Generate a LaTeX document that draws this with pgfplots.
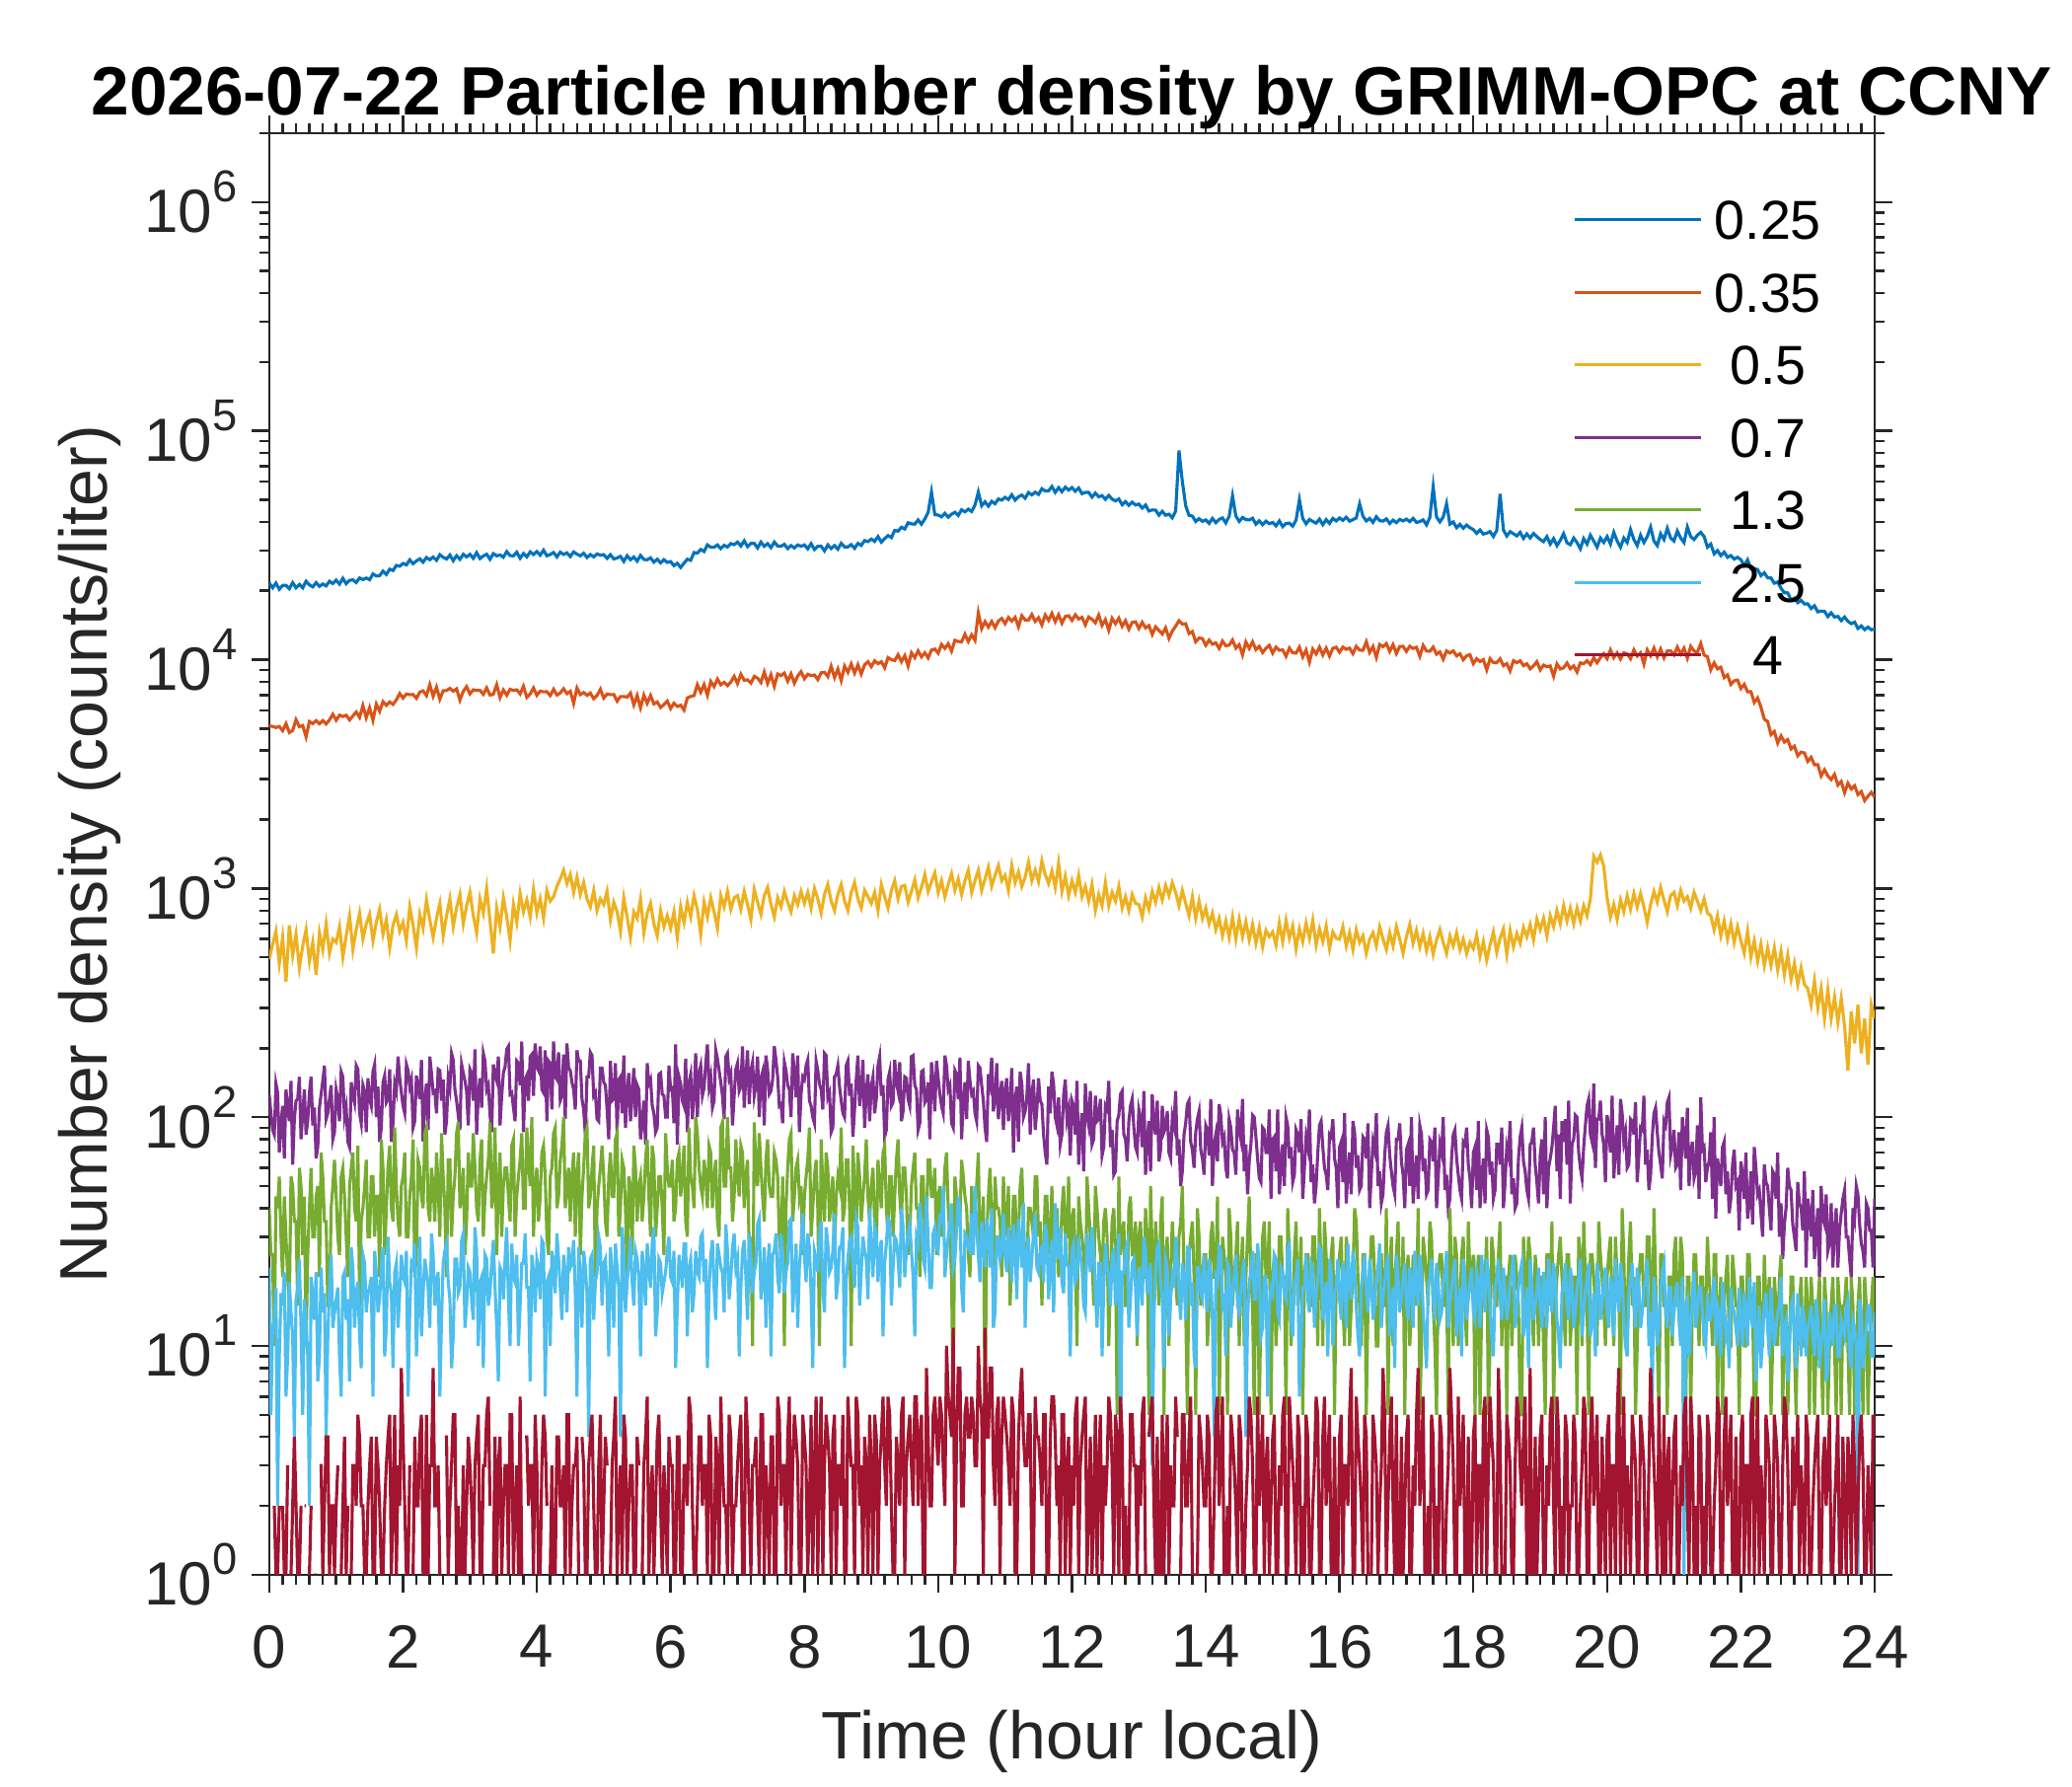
\documentclass[border=0pt]{standalone}
\usepackage{pgfplots}
\usepackage{pgfplotstable}
\usepackage{fontspec}
\setmainfont{Liberation Sans}
\pgfplotsset{compat=1.18}
\definecolor{c1}{rgb}{0,0.447,0.741}
\definecolor{c2}{rgb}{0.85,0.325,0.098}
\definecolor{c3}{rgb}{0.929,0.694,0.125}
\definecolor{c4}{rgb}{0.494,0.184,0.556}
\definecolor{c5}{rgb}{0.466,0.674,0.188}
\definecolor{c6}{rgb}{0.301,0.745,0.933}
\definecolor{c7}{rgb}{0.635,0.078,0.184}
\definecolor{axgray}{rgb}{0.15,0.15,0.15}
\newcommand\tp[1]{10\raisebox{0.5em}{\fontsize{10.9}{12}\selectfont #1}}
% fine channels (0.25, 0.35, 0.5 um)
\pgfplotstableread{
t b o y
0.00 21600 5140 490
0.05 20600 5100 570
0.10 21600 5050 650
0.15 20300 5100 470
0.20 21100 4890 610
0.25 21100 5250 390
0.30 20400 4800 690
0.35 21700 4900 510
0.40 20600 5460 630
0.45 21300 5090 450
0.50 20600 5150 560
0.55 22000 4600 660
0.60 21200 5360 480
0.65 20800 5250 580
0.70 21700 5410 420
0.75 20900 5240 640
0.80 21400 5410 540
0.85 21000 5230 700
0.90 22000 5450 520
0.95 21500 5770 600
1.00 22240 5430 580
1.05 21380 5720 680
1.10 22660 5640 500
1.15 21460 5710 620
1.20 22200 5450 760
1.25 22320 5670 540
1.30 21730 5900 660
1.35 22750 5590 780
1.40 22370 6300 600
1.45 22730 5570 700
1.50 22340 6160 770
1.55 23690 5430 590
1.60 23200 6390 710
1.65 23270 5940 810
1.70 24380 6550 630
1.75 23570 6310 730
1.80 24850 6530 550
1.85 24500 6370 690
1.90 25810 6670 770
1.95 25600 7110 650
2.00 26320 6790 710
2.05 25940 7070 590
2.10 27300 7030 830
2.15 26260 7040 690
2.20 27000 6770 550
2.25 27570 7210 770
2.30 26680 7300 670
2.35 27950 6960 890
2.40 27320 7770 730
2.45 28080 6910 610
2.50 27150 7580 740
2.55 28740 6720 860
2.60 28000 7310 620
2.65 27520 7330 760
2.70 28660 7490 900
2.75 27060 7280 680
2.80 28480 7450 820
2.85 27440 6650 940
2.90 28870 7270 700
2.95 28100 7620 840
3.00 28870 7080 960
3.05 27720 7380 760
3.10 29360 7330 640
3.15 27640 7340 900
3.20 28400 7050 780
3.25 28890 7520 1000
3.30 27450 7000 720
3.35 29070 7060 520
3.40 28410 7770 820
3.45 28680 6820 680
3.50 28030 7370 910
3.55 29660 6990 750
3.60 28500 7420 590
3.65 28410 7330 850
3.70 29480 7380 710
3.75 27740 7080 950
3.80 29090 7650 790
3.85 28130 6840 890
3.90 29580 7070 750
3.95 28800 7520 990
4.00 29680 6980 780
4.05 28610 7280 900
4.10 30080 7230 740
4.15 28420 7240 980
4.20 28800 6960 880
4.25 29390 7420 920
4.30 28130 7000 1020
4.35 29480 7150 1100
4.40 28810 7460 1200
4.45 29290 7100 1050
4.50 28220 7270 1150
4.55 29560 6440 960
4.60 28900 7520 1120
4.65 28410 7030 940
4.70 29170 7180 1060
4.75 27940 6980 900
4.80 28790 7140 830
4.85 28130 6750 980
4.90 28970 6970 800
4.95 28600 7420 900
5.00 28760 6790 850
5.05 27720 7070 970
5.10 28740 7030 730
5.15 27540 7040 870
5.20 27800 6580 790
5.25 28280 6900 650
5.30 26870 6900 910
5.35 28460 6860 750
5.40 27320 7140 610
5.45 28080 6340 790
5.50 26950 6970 740
5.55 28530 6160 900
5.60 27400 7000 640
5.65 27320 6440 780
5.70 27850 6970 860
5.75 26680 6400 700
5.80 27470 6530 620
5.85 26460 6180 800
5.90 27340 6360 680
5.95 26600 6590 760
6.00 26830 6110 670
6.05 25740 6450 790
6.10 26370 6240 610
6.15 25280 6320 830
6.20 26400 6020 710
6.25 27470 6800 870
6.30 27160 6900 750
6.35 29380 6960 930
6.40 29210 7770 810
6.45 30300 7200 630
6.50 29690 7780 870
6.55 31720 6990 750
6.60 31000 8030 910
6.65 30990 7620 790
6.70 31720 8220 670
6.75 30560 7760 930
6.80 31610 7960 830
6.85 31070 7700 970
6.90 32130 7980 810
6.95 31800 8450 910
7.00 32640 7860 930
7.05 31380 8630 810
7.10 33060 8120 970
7.15 31160 8160 850
7.20 32200 7900 730
7.25 32220 8450 990
7.30 30750 8300 870
7.35 32640 7940 770
7.40 31280 8820 930
7.45 32120 7870 1010
7.50 30870 8590 850
7.55 32650 7640 750
7.60 31400 8650 910
7.65 31280 8510 830
7.70 31930 8740 970
7.75 30560 8050 870
7.80 31510 8670 790
7.85 30770 7890 930
7.90 31720 8480 850
7.95 31300 8860 970
8.00 31720 8250 860
8.05 30490 8630 960
8.10 32140 8510 820
8.15 30280 8570 1000
8.20 31300 8180 900
8.25 31310 8760 780
8.30 29880 8800 940
8.35 31720 8430 1040
8.40 30590 9350 880
8.45 31510 8350 800
8.50 30380 9090 940
8.55 32240 8100 1040
8.60 31100 9370 880
8.65 31090 8810 800
8.70 31820 9570 960
8.75 30650 8730 1060
8.80 32220 9490 900
8.85 31560 8650 820
8.90 33150 9490 980
8.95 32800 9790 920
9.00 33660 9310 860
9.05 32870 9880 960
9.10 34510 9600 800
9.15 32630 9790 1040
9.20 33800 9210 920
9.25 34850 10200 820
9.30 34140 10000 980
9.35 36720 9900 1080
9.40 36430 10500 900
9.45 37880 9790 1020
9.50 37240 10400 1030
9.55 39660 9380 870
9.60 39200 10710 970
9.65 39110 10200 1090
9.70 40800 10920 910
9.75 39090 10280 1010
9.80 41210 10710 1150
9.85 44000 10170 970
9.90 54000 11010 1070
9.95 43000 11120 1170
10.00 42840 10670 960
10.05 42080 11650 1080
10.10 43570 11190 920
10.15 41940 11730 1040
10.20 43200 10900 1160
10.25 44040 12150 980
10.30 42680 12000 1100
10.35 45190 11960 940
10.40 44250 12920 1080
10.45 45450 12000 1200
10.50 44390 12830 960
10.55 47380 12140 1080
10.60 54000 16000 1200
10.65 47030 13660 980
10.70 48960 14660 1100
10.75 46850 13870 1240
10.80 49190 14690 1020
10.85 48020 13780 1140
10.90 50390 14750 1260
10.95 49800 15140 1080
11.00 51200 14360 1140
11.05 50090 15290 980
11.10 52530 14750 1260
11.15 49780 15300 1060
11.20 51500 13910 1180
11.25 52420 15550 1020
11.30 50730 14900 1120
11.35 53750 14900 1300
11.40 52470 15750 1080
11.45 53930 14690 1200
11.50 52720 15250 1070
11.55 55830 14170 1320
11.60 54600 15660 1150
11.65 54650 14850 1050
11.70 57120 15910 1190
11.75 53840 14650 1010
11.80 56460 15710 1290
11.85 54190 14440 970
11.90 56710 15450 1130
11.95 55100 15550 930
12.00 56510 14840 1080
12.05 54450 15700 960
12.10 56240 15050 1140
12.15 53120 15300 920
12.20 53800 14190 1020
12.25 53830 15350 880
12.30 51310 15000 1040
12.35 53450 14500 800
12.40 51480 15650 940
12.45 52120 14110 840
12.50 50180 14950 1060
12.55 52220 13430 840
12.60 50300 15140 960
12.65 49400 14360 880
12.70 50390 15180 1020
12.75 47530 13970 820
12.80 49090 14790 920
12.85 47240 13590 800
12.90 48760 14540 940
12.95 47400 14630 860
13.00 47840 13680 850
13.05 45940 14560 750
13.10 47380 13760 910
13.15 44590 14080 810
13.20 45100 12880 970
13.25 45050 13910 870
13.30 42780 13400 1010
13.35 44470 12940 890
13.40 42770 13760 1030
13.45 43230 12380 930
13.50 41650 13330 1060
13.55 44500 14000 960
13.60 82000 14800 840
13.65 60000 14300 980
13.70 47000 14350 860
13.75 42680 13000 760
13.80 42420 13260 920
13.85 40180 11970 740
13.90 41310 12420 880
13.95 40200 12360 740
14.00 40800 11540 820
14.05 39400 12170 700
14.10 41410 11680 780
14.15 39690 11830 660
14.20 41000 11190 740
14.25 41610 12050 620
14.30 39580 11500 720
14.35 42330 11560 610
14.40 52000 12180 750
14.45 42420 11230 600
14.50 40180 11620 735
14.55 41820 10490 615
14.60 40900 11950 715
14.65 40790 11190 595
14.70 41510 11960 695
14.75 39090 11060 575
14.80 40400 11420 675
14.85 38910 10740 555
14.90 40290 11210 655
14.95 39300 11540 615
15.00 39780 10670 645
15.05 38410 11340 565
15.10 40380 10990 705
15.15 38120 11020 585
15.20 39400 10340 725
15.25 39490 11230 605
15.30 38320 10700 685
15.35 40700 10680 545
15.40 50000 11340 665
15.45 41410 10270 585
15.50 39200 11010 705
15.55 40990 9750 605
15.60 40200 11120 725
15.65 39500 10590 565
15.70 41110 11340 665
15.75 38900 10480 585
15.80 40910 11220 685
15.85 39400 10360 545
15.90 41410 11210 645
15.95 40400 11330 605
16.00 41620 10770 600
16.05 40590 11340 680
16.10 41920 11090 560
16.15 40280 11220 640
16.20 40900 10620 540
16.25 41610 11430 660
16.30 48000 11000 580
16.35 42330 10980 620
16.40 40390 11970 520
16.45 41410 10750 600
16.50 39790 11410 640
16.55 42130 10210 560
16.60 40500 11640 680
16.65 40290 11390 600
16.70 41210 11750 540
16.75 39380 10860 640
16.80 40700 11630 560
16.85 39690 10640 680
16.90 41000 11410 600
16.95 40400 11430 520
17.00 41110 10860 615
17.05 40100 11440 695
17.10 41410 11190 575
17.15 39790 11320 655
17.20 40100 10340 555
17.25 40800 11540 635
17.30 38800 10900 535
17.35 41820 10880 615
17.40 57000 11340 515
17.45 42000 10560 595
17.50 40000 10810 660
17.55 42000 10030 580
17.60 48000 10920 520
17.65 39110 10690 620
17.70 39980 10920 560
17.75 37730 10380 640
17.80 38990 10610 540
17.85 37530 9980 600
17.90 38760 10400 520
17.95 37700 10510 580
18.00 37030 9600 545
18.05 35640 10090 625
18.10 36870 9800 505
18.15 35380 10000 585
18.20 35700 9020 485
18.25 36260 10090 565
18.30 34530 9700 645
18.35 36720 9700 525
18.40 53000 10080 605
18.45 36870 9410 665
18.50 34690 9600 515
18.55 36260 8920 655
18.60 35500 9890 555
18.65 34750 9700 635
18.70 36010 9880 575
18.75 33850 9410 675
18.80 35450 9590 615
18.85 34010 9120 695
18.90 35600 9390 595
18.95 34500 9790 735
19.00 33500 9020 660
19.05 32800 9460 740
19.10 34500 9310 620
19.15 32000 9380 760
19.20 33800 8460 680
19.25 31500 9580 800
19.30 33200 9100 700
19.35 35500 9210 840
19.40 32400 9660 720
19.45 31800 9120 820
19.50 34000 9390 700
19.55 32500 8830 820
19.60 30500 9680 720
19.65 33800 9600 840
19.70 32000 9880 760
19.75 35000 9510 900
19.80 33000 10200 1380
19.85 31000 9690 1300
19.90 34000 10200 1400
19.95 32500 10610 1250
20.00 34500 10090 910
20.05 32000 11020 750
20.10 36000 10200 850
20.15 33000 10710 730
20.20 31000 10060 890
20.25 34000 10710 790
20.30 32500 10600 930
20.35 37000 10090 810
20.40 33500 11030 950
20.45 31500 10370 830
20.50 35000 10710 950
20.55 32500 9570 830
20.60 34500 11020 710
20.65 38000 10400 850
20.70 33000 11230 970
20.75 31500 10280 870
20.80 35500 11120 1010
20.85 33500 10170 890
20.90 37500 10910 790
20.95 34000 10920 930
21.00 33000 10480 960
21.05 36500 11340 840
21.10 34000 10590 980
21.15 32500 11220 880
21.20 38000 10150 920
21.25 34500 11430 820
21.30 33500 10900 960
21.35 35000 10780 880
21.40 36000 11760 800
21.45 34500 10460 900
21.50 31000 10300 780
21.55 32000 9020 760
21.60 29000 9680 660
21.65 30000 9110 760
21.70 28500 9260 620
21.75 29500 8340 720
21.80 28000 8570 600
21.85 28500 7790 700
21.90 27500 8080 580
21.95 28000 8140 680
22.00 27340 7470 590
22.05 25740 7800 520
22.10 27300 7230 650
22.15 24990 7240 500
22.20 25000 6490 590
22.25 24750 6800 480
22.30 23280 6200 570
22.35 23970 5490 460
22.40 22770 5360 550
22.45 22730 4700 460
22.50 21560 4850 550
22.55 21840 4320 440
22.60 20500 4640 530
22.65 19600 4360 420
22.70 19580 4470 510
22.75 18240 4070 400
22.80 18580 4180 470
22.85 17740 3800 380
22.90 18160 3940 450
22.95 17500 3910 380
23.00 17540 3590 365
23.05 16730 3740 310
23.10 17200 3470 395
23.15 16170 3470 300
23.20 16300 3100 365
23.25 16260 3300 270
23.30 15420 3100 360
23.35 16010 2990 270
23.40 15350 3150 335
23.45 15450 2830 260
23.50 14800 2930 330
23.55 15350 2620 250
23.60 14700 2880 160
23.65 14360 2720 290
23.70 14590 2810 210
23.75 13680 2570 310
23.80 14040 2650 190
23.85 13520 2420 270
23.90 13870 2530 170
23.95 13500 2630 310
24.00 13600 2500 270
}\fine
% coarse channels (0.7, 1.3, 2.5, 4 um)
\pgfplotstableread{
t p g l r
0.000 125 40 22 0
0.025 104 25 5 0
0.050 88 25 12 0
0.075 84 10 13 2
0.100 140 45 18 1
0.125 128 40 2 1
0.150 70 55 9 2
0.175 92 30 17 0
0.200 112 20 15 2
0.225 66 45 21 1
0.250 132 30 6 1
0.275 110 20 9 3
0.300 96 15 19 0
0.325 144 55 14 1
0.350 62 50 11 2
0.375 98 35 4 4
0.400 118 35 16 2
0.425 120 15 18 1
0.450 150 60 24 1
0.475 80 50 12 2
0.500 104 25 5 0
0.525 132 45 16 2
0.550 84 10 13 2
0.575 96 25 9 0
0.600 128 40 2 1
0.625 150 60 20 2
0.650 92 30 17 0
0.675 110 30 13 1
0.700 66 45 21 1
0.725 74 50 7 0
0.750 110 20 9 3
0.775 126 70 22 3
0.800 144 55 14 1
0.825 168 35 17 2
0.850 98 35 4 4
0.875 104 15 11 4
0.900 120 15 18 1
0.925 138 40 25 2
0.950 80 50 12 2
0.975 86 65 14 1
1.000 132 45 16 2
1.025 120 30 18 3
1.050 96 25 9 0
1.075 158 55 6 1
1.100 150 60 20 2
1.125 100 45 21 4
1.150 110 30 13 1
1.175 78 20 16 2
1.200 74 50 7 0
1.225 142 60 27 1
1.250 126 70 22 3
1.275 116 40 12 3
1.300 168 35 17 2
1.325 162 75 19 5
1.350 104 15 11 4
1.375 94 35 8 2
1.400 138 40 25 2
1.425 130 50 23 1
1.450 86 65 14 1
1.475 148 30 17 2
1.500 120 30 18 3
1.525 112 55 20 4
1.550 158 55 6 1
1.575 170 30 26 1
1.600 100 45 21 4
1.625 136 45 14 3
1.650 78 20 16 2
1.675 90 80 22 1
1.700 142 60 27 1
1.725 152 25 9 2
1.750 116 40 12 3
1.775 120 60 30 4
1.800 162 75 19 5
1.825 78 40 17 1
1.850 94 35 8 2
1.875 140 90 21 5
1.900 130 50 23 1
1.925 184 35 12 3
1.950 148 30 17 2
1.975 128 50 25 8
2.000 112 55 20 4
2.025 104 70 19 2
2.050 170 30 26 1
2.075 160 30 6 1
2.100 136 45 14 3
2.125 146 55 23 0
2.150 90 80 22 1
2.175 96 20 28 4
2.200 152 25 9 2
2.225 134 65 16 2
2.250 120 60 30 4
2.275 178 45 11 5
2.300 78 40 17 1
2.325 118 85 24 1
2.350 140 90 21 5
2.375 88 40 18 1
2.400 184 35 12 3
2.425 156 60 31 3
2.450 128 50 25 8
2.475 130 35 15 2
2.500 104 70 19 2
2.525 162 50 21 3
2.550 160 30 6 1
2.575 118 85 13 1
2.600 146 55 23 0
2.625 84 40 26 4
2.650 96 20 28 4
2.675 148 65 19 1
2.700 134 65 16 2
2.725 190 30 8 3
2.750 178 45 11 5
2.775 132 55 24 5
2.800 118 85 24 1
2.825 102 95 17 2
2.850 88 40 18 1
2.875 170 45 29 1
2.900 156 60 31 3
2.925 144 25 12 1
2.950 130 35 15 2
2.975 92 70 22 4
3.000 162 50 21 3
3.025 156 50 16 2
3.050 118 85 13 1
3.075 198 60 33 3
3.100 84 40 26 4
3.125 126 35 10 5
3.150 148 65 19 1
3.175 110 80 20 1
3.200 190 30 8 3
3.225 176 45 25 3
3.250 132 55 24 5
3.275 138 65 15 6
3.300 102 95 17 2
3.325 86 40 23 0
3.350 170 45 29 1
3.375 152 90 18 4
3.400 144 25 12 1
3.425 184 50 7 3
3.450 92 70 22 4
3.475 124 30 21 1
3.500 156 50 16 2
3.525 166 60 24 3
3.550 198 60 33 3
3.575 204 45 16 1
3.600 126 35 10 5
3.625 128 75 28 5
3.650 110 80 20 1
3.675 96 30 19 2
3.700 176 45 25 3
3.725 172 55 10 1
3.750 138 65 15 6
3.775 214 85 23 1
3.800 86 40 23 0
3.825 146 40 31 4
3.850 152 90 18 4
3.875 118 65 18 2
3.900 184 50 7 3
3.925 188 100 25 3
3.950 124 30 21 1
3.975 210 50 14 5
4.000 166 60 24 3
4.025 160 35 22 1
4.050 204 45 16 1
4.075 132 70 29 3
4.100 128 75 28 5
4.125 196 55 6 4
4.150 96 30 19 2
4.175 176 25 20 0
4.200 172 55 10 1
4.225 108 60 26 3
4.250 214 85 23 1
4.275 150 90 17 1
4.300 146 40 31 4
4.325 192 45 24 4
4.350 118 65 18 2
4.375 124 75 13 2
4.400 188 100 25 3
4.425 98 40 21 1
4.450 210 50 14 5
4.475 164 60 27 5
4.500 160 35 22 1
4.525 142 55 23 2
4.550 132 70 29 3
4.575 108 30 17 3
4.600 196 55 6 4
4.625 176 70 27 1
4.650 176 25 20 0
4.675 120 45 12 4
4.700 108 60 26 3
4.725 84 85 22 1
4.750 150 90 17 1
4.775 150 40 4 3
4.800 192 45 24 4
4.825 186 60 25 5
4.850 124 75 13 2
4.875 128 20 19 1
4.900 98 40 21 1
4.925 96 50 30 3
4.950 164 60 27 5
4.975 164 75 15 1
5.000 142 55 23 2
5.025 138 35 24 4
5.050 108 30 17 3
5.075 80 55 9 0
5.100 176 70 27 1
5.125 118 45 21 3
5.150 120 45 12 4
5.175 172 80 28 6
5.200 84 85 22 1
5.225 146 30 18 2
5.250 150 40 4 3
5.275 104 65 33 1
5.300 186 60 25 5
5.325 90 40 14 4
5.350 128 20 19 1
5.375 156 55 23 2
5.400 96 50 30 3
5.425 124 25 19 3
5.450 164 75 15 1
5.475 100 60 26 1
5.500 138 35 24 4
5.525 132 50 20 3
5.550 80 55 9 0
5.575 94 35 26 1
5.600 118 45 21 3
5.625 76 65 15 4
5.650 172 80 28 6
5.675 140 45 22 1
5.700 146 30 18 2
5.725 112 75 28 3
5.750 104 65 33 1
5.775 86 30 11 2
5.800 90 40 14 4
5.825 154 55 24 5
5.850 156 55 23 2
5.875 126 40 17 1
5.900 124 25 19 3
5.925 100 85 21 2
5.950 100 60 26 1
5.975 168 50 30 4
6.000 132 50 20 3
6.025 134 65 19 3
6.050 94 35 26 1
6.075 208 40 8 1
6.100 76 65 15 4
6.125 150 70 25 4
6.150 140 45 22 1
6.175 118 55 18 1
6.200 112 75 28 3
6.225 180 35 28 3
6.250 86 30 11 2
6.275 142 90 22 6
6.300 154 55 24 5
6.325 98 50 14 2
6.350 126 40 17 1
6.375 190 100 26 1
6.400 100 85 21 2
6.425 156 60 20 4
6.450 168 50 30 4
6.475 124 45 31 2
6.500 134 65 19 3
6.525 172 55 24 3
6.550 208 40 8 1
6.575 136 75 18 5
6.600 150 70 25 4
6.625 110 40 29 1
6.650 118 55 18 1
6.675 196 65 13 4
6.700 180 35 28 3
6.725 160 30 25 1
6.750 142 90 22 6
6.775 124 95 21 3
6.800 98 50 14 2
6.825 184 50 34 2
6.850 190 100 26 1
6.875 148 60 16 5
6.900 156 60 20 4
6.925 92 35 27 1
6.950 124 45 31 2
6.975 162 80 22 2
7.000 172 55 24 3
7.025 130 45 9 4
7.050 136 75 18 5
7.075 204 70 26 1
7.100 110 40 29 1
7.125 150 55 20 6
7.150 196 65 13 4
7.175 114 25 31 2
7.200 160 30 25 1
7.225 174 10 17 3
7.250 124 95 21 3
7.275 138 60 23 4
7.300 184 50 34 2
7.325 100 85 36 1
7.350 148 60 16 5
7.375 158 45 19 5
7.400 92 35 27 1
7.425 186 65 12 3
7.450 162 80 22 2
7.475 126 50 28 1
7.500 130 45 9 4
7.525 146 45 25 4
7.550 204 70 26 1
7.575 178 65 31 1
7.600 150 55 20 6
7.625 112 30 17 5
7.650 114 25 31 2
7.675 94 55 26 3
7.700 174 10 17 3
7.725 160 40 21 1
7.750 138 60 23 4
7.775 132 80 35 6
7.800 100 85 36 1
7.825 190 35 14 3
7.850 158 45 19 5
7.875 122 60 28 4
7.900 186 65 12 3
7.925 86 45 22 1
7.950 126 50 28 1
7.975 150 25 38 5
8.000 146 45 25 4
8.025 168 55 19 3
8.050 178 65 31 1
8.075 118 90 27 2
8.100 112 30 17 5
8.125 100 40 8 1
8.150 94 55 26 3
8.175 176 65 24 6
8.200 160 40 21 1
8.225 140 10 30 3
8.250 132 80 35 6
8.275 108 50 18 1
8.300 190 35 14 3
8.325 186 70 33 5
8.350 122 60 28 4
8.375 128 35 21 3
8.400 86 45 22 1
8.425 90 55 26 4
8.450 150 25 38 5
8.475 154 45 16 1
8.500 168 55 19 3
8.525 136 50 27 3
8.550 118 90 27 2
8.575 104 35 33 5
8.600 100 40 8 1
8.625 168 65 19 1
8.650 176 65 24 6
8.675 124 40 29 4
8.700 140 10 30 3
8.725 82 75 23 3
8.750 108 50 18 1
8.775 146 30 36 6
8.800 186 70 33 5
8.825 112 55 15 2
8.850 128 35 21 3
8.875 178 45 30 1
8.900 90 55 26 4
8.925 130 80 24 3
8.950 154 45 16 1
8.975 96 35 40 5
9.000 136 50 27 3
9.025 150 60 20 1
9.050 104 35 33 5
9.075 120 25 31 4
9.100 168 65 19 1
9.125 184 50 26 3
9.150 124 40 29 4
9.175 138 70 11 6
9.200 82 75 23 3
9.225 88 40 28 2
9.250 146 30 36 6
9.275 158 55 35 5
9.300 112 55 15 2
9.325 116 30 22 1
9.350 178 45 30 1
9.375 142 65 29 4
9.400 130 80 24 3
9.425 174 45 18 2
9.450 96 35 40 5
9.475 106 60 33 6
9.500 150 60 20 1
9.525 148 45 26 3
9.550 120 25 31 4
9.575 112 30 34 5
9.600 184 50 26 3
9.625 186 60 20 2
9.650 138 70 11 6
9.675 132 40 30 6
9.700 88 40 28 2
9.725 94 20 42 4
9.750 158 55 35 5
9.775 160 55 24 1
9.800 116 30 22 1
9.825 120 35 45 8
9.850 142 65 29 4
9.875 80 65 18 2
9.900 174 45 18 2
9.925 142 45 31 5
9.950 106 60 33 6
9.975 176 25 27 4
10.000 148 45 26 3
10.025 126 50 38 6
10.050 112 30 34 5
10.075 104 40 50 3
10.100 186 60 20 2
10.125 168 70 25 10
10.150 132 40 30 6
10.175 138 30 35 5
10.200 94 20 42 4
10.225 90 5 22 12
10.250 160 55 24 1
10.275 154 45 32 4
10.300 120 35 45 8
10.325 182 35 40 8
10.350 80 65 18 2
10.375 118 55 14 2
10.400 142 45 31 5
10.425 98 40 30 6
10.450 176 25 27 4
10.475 144 20 26 4
10.500 126 50 38 6
10.525 130 35 25 5
10.550 104 40 50 3
10.575 96 50 33 3
10.600 168 70 25 10
10.625 164 25 19 6
10.650 138 30 35 5
10.675 118 45 28 1
10.700 90 5 22 12
10.725 78 30 36 4
10.750 154 45 32 4
10.775 140 60 22 8
10.800 182 35 40 8
10.825 106 20 12 3
10.850 118 55 14 2
10.875 172 40 30 5
10.900 98 40 30 6
10.925 124 35 24 1
10.950 144 20 26 4
10.975 88 55 38 6
11.000 130 35 25 5
11.025 148 30 21 4
11.050 96 50 33 3
11.075 114 15 27 2
11.100 164 25 19 6
11.125 70 45 34 5
11.150 118 45 28 1
11.175 136 25 16 1
11.200 78 30 36 4
11.225 158 50 29 6
11.250 140 60 22 8
11.275 100 35 42 4
11.300 106 20 12 3
11.325 122 20 24 3
11.350 172 40 30 5
11.375 84 40 19 5
11.400 124 35 24 1
11.425 146 30 31 1
11.450 88 55 38 6
11.475 108 55 22 4
11.500 148 30 21 4
11.525 118 35 26 3
11.550 114 15 27 2
11.575 84 25 19 5
11.600 70 45 34 5
11.625 62 45 30 1
11.650 136 25 16 1
11.675 104 30 22 4
11.700 158 50 29 6
11.725 140 15 14 6
11.750 100 35 42 4
11.775 92 40 27 2
11.800 122 20 24 3
11.825 76 25 33 1
11.850 84 40 19 5
11.875 124 50 17 5
11.900 146 30 31 1
11.925 98 30 23 3
11.950 108 55 22 4
11.975 68 20 9 1
12.000 118 35 26 3
12.025 112 40 28 2
12.050 84 25 19 5
12.075 144 10 20 6
12.100 62 45 30 1
12.125 88 35 25 3
12.150 104 30 22 4
12.175 58 25 15 5
12.200 140 15 14 6
12.225 102 55 31 1
12.250 92 40 27 2
12.275 130 30 21 4
12.300 76 25 33 1
12.325 80 15 26 2
12.350 124 50 17 5
12.375 96 40 12 1
12.400 98 30 23 3
12.425 120 25 23 5
12.450 68 20 9 1
12.475 74 35 18 3
12.500 112 40 28 2
12.525 108 30 22 3
12.550 144 10 20 6
12.575 74 20 15 5
12.600 88 35 25 3
12.625 56 40 26 1
12.650 58 25 15 5
12.675 96 5 19 4
12.700 102 55 31 1
12.725 126 25 3 6
12.750 130 30 21 4
12.775 84 35 21 1
12.800 80 15 26 2
12.825 64 15 28 1
12.850 96 40 12 1
12.875 112 45 16 5
12.900 120 25 23 5
12.925 90 25 24 3
12.950 74 35 18 3
12.975 70 10 11 1
13.000 108 30 22 3
13.025 100 35 20 2
13.050 74 20 15 5
13.075 130 20 30 6
13.100 56 40 26 1
13.125 80 30 17 0
13.150 96 5 19 4
13.175 58 50 23 5
13.200 126 25 3 6
13.225 94 15 13 2
13.250 84 35 21 1
13.275 118 25 27 4
13.300 64 15 28 1
13.325 72 35 19 1
13.350 112 45 16 5
13.375 86 5 8 1
13.400 90 25 24 3
13.425 106 30 22 5
13.450 70 10 11 1
13.475 66 20 16 3
13.500 100 35 20 2
13.525 92 25 18 2
13.550 130 20 30 6
13.575 68 15 24 4
13.600 80 30 17 0
13.625 50 35 13 1
13.650 58 50 23 5
13.675 84 20 20 5
13.700 94 15 13 2
13.725 114 5 27 2
13.750 118 25 27 4
13.775 78 30 15 6
13.800 72 35 19 1
13.825 60 20 9 1
13.850 86 5 8 1
13.875 98 40 22 1
13.900 106 30 22 5
13.925 72 15 17 4
13.950 66 20 16 3
13.975 56 25 25 2
14.000 92 25 18 2
14.025 88 10 14 5
14.050 68 15 24 4
14.075 120 30 21 1
14.100 50 35 13 1
14.125 76 20 4 2
14.150 84 20 20 5
14.175 64 45 19 6
14.200 114 5 27 2
14.225 102 15 26 3
14.250 78 30 15 6
14.275 82 25 16 1
14.300 60 20 9 1
14.325 54 5 23 2
14.350 98 40 22 1
14.375 90 30 12 5
14.400 72 15 17 4
14.425 70 20 20 3
14.450 56 25 25 2
14.475 108 35 15 1
14.500 88 10 14 5
14.525 80 20 17 4
14.550 120 30 21 1
14.575 58 10 24 1
14.600 76 20 4 2
14.625 46 30 13 3
14.650 64 45 19 6
14.675 76 20 21 5
14.700 102 15 26 3
14.725 100 5 16 1
14.750 82 25 16 1
14.775 66 25 28 6
14.800 54 5 23 2
14.825 52 15 11 3
14.850 90 30 12 5
14.875 88 35 20 1
14.900 70 20 20 3
14.925 70 20 6 4
14.950 108 35 15 1
14.975 44 5 18 2
15.000 80 20 17 4
15.025 82 25 25 5
15.050 58 10 24 1
15.075 108 15 14 1
15.100 46 30 13 3
15.125 62 30 22 2
15.150 76 20 21 5
15.175 50 20 17 6
15.200 100 5 16 1
15.225 92 40 27 1
15.250 66 25 28 6
15.275 74 10 13 4
15.300 52 15 11 3
15.325 56 25 19 2
15.350 88 35 20 1
15.375 84 15 24 5
15.400 70 20 6 4
15.425 98 30 10 1
15.450 44 5 18 2
15.475 60 20 18 1
15.500 82 25 25 5
15.525 74 25 16 4
15.550 108 15 14 1
15.575 52 15 23 1
15.600 62 30 22 2
15.625 42 30 12 3
15.650 50 20 17 6
15.675 70 10 19 5
15.700 92 40 27 1
15.725 96 20 26 1
15.750 74 10 13 4
15.775 60 35 15 6
15.800 56 25 19 2
15.825 48 15 9 3
15.850 84 15 24 5
15.875 82 25 21 1
15.900 98 30 10 1
15.925 66 5 17 4
15.950 60 20 18 1
15.975 40 20 24 1
16.000 74 25 16 4
16.025 78 30 13 5
16.050 52 15 23 1
16.075 104 10 20 3
16.100 42 30 12 3
16.125 58 25 28 2
16.150 70 10 19 5
16.175 46 15 16 8
16.200 96 20 26 1
16.225 86 40 22 1
16.250 60 35 15 6
16.275 68 20 11 4
16.300 48 15 9 3
16.325 50 10 18 2
16.350 82 25 21 1
16.375 80 25 25 5
16.400 66 5 17 4
16.425 94 15 14 1
16.450 40 20 24 1
16.475 56 30 20 1
16.500 78 30 13 5
16.525 72 20 15 4
16.550 104 10 20 3
16.575 50 10 22 1
16.600 58 25 28 2
16.625 42 25 12 3
16.650 46 15 16 8
16.675 68 15 19 5
16.700 86 40 22 1
16.725 92 5 25 2
16.750 68 20 11 4
16.775 58 30 14 6
16.800 50 10 18 2
16.825 46 20 8 1
16.850 80 25 25 5
16.875 80 35 20 1
16.900 94 15 14 1
16.925 64 15 16 4
16.950 56 30 20 1
16.975 40 5 23 2
17.000 72 20 15 4
17.025 76 25 13 5
17.050 50 10 22 1
17.075 100 15 19 1
17.100 42 25 12 3
17.125 56 20 26 2
17.150 68 15 19 5
17.175 44 40 15 8
17.200 92 5 25 2
17.225 84 10 21 3
17.250 58 30 14 6
17.275 66 25 11 1
17.300 46 20 8 1
17.325 48 15 18 2
17.350 80 35 20 1
17.375 78 30 24 5
17.400 64 15 16 4
17.425 90 10 13 1
17.450 40 5 23 2
17.475 54 20 19 1
17.500 76 25 13 5
17.525 70 25 14 4
17.550 100 15 19 1
17.575 48 15 21 1
17.600 56 20 26 2
17.625 40 5 12 3
17.650 44 40 15 8
17.675 66 20 18 5
17.700 84 10 21 3
17.725 88 30 24 1
17.750 66 25 11 1
17.775 56 10 15 6
17.800 48 15 18 2
17.825 44 25 9 3
17.850 78 30 24 5
17.875 76 15 20 1
17.900 90 10 13 1
17.925 62 35 16 4
17.950 54 20 19 1
17.975 40 20 22 1
18.000 70 25 14 4
18.025 74 5 13 5
18.050 48 15 21 1
18.075 96 25 19 3
18.100 40 5 12 3
18.125 54 15 25 1
18.150 66 20 18 5
18.175 42 20 14 6
18.200 88 30 24 1
18.225 82 5 21 3
18.250 56 10 15 6
18.275 64 30 11 4
18.300 44 25 9 3
18.325 48 15 18 1
18.350 76 15 20 1
18.375 76 25 24 8
18.400 62 35 16 4
18.425 90 10 13 1
18.450 40 20 22 1
18.475 52 20 17 1
18.500 74 5 13 5
18.525 68 20 15 4
18.550 96 25 19 3
18.575 46 10 21 1
18.600 54 15 25 1
18.625 40 25 12 3
18.650 42 20 14 6
18.675 66 15 18 5
18.700 82 5 21 3
18.725 90 5 23 2
18.750 64 30 11 4
18.775 58 20 13 6
18.800 48 15 18 1
18.825 44 30 8 1
18.850 76 25 24 8
18.875 78 15 19 1
18.900 90 10 13 1
18.925 62 25 15 4
18.950 52 20 17 1
18.975 42 10 22 2
19.000 68 20 15 4
19.025 80 20 12 5
19.050 46 10 21 1
19.075 100 5 18 1
19.100 40 25 12 3
19.125 60 25 24 2
19.150 66 15 18 5
19.175 74 35 14 6
19.200 90 5 23 2
19.225 112 15 20 1
19.250 58 20 13 6
19.275 84 25 11 4
19.300 44 30 8 1
19.325 96 20 17 2
19.350 78 15 19 1
19.375 98 10 23 5
19.400 62 25 15 4
19.425 118 25 13 1
19.450 42 10 22 2
19.475 76 15 19 2
19.500 80 20 12 5
19.525 102 20 14 4
19.550 100 5 18 1
19.575 70 30 20 1
19.600 60 25 24 2
19.625 54 10 11 3
19.650 74 35 14 6
19.675 92 20 17 5
19.700 112 15 20 1
19.725 120 5 23 1
19.750 84 25 11 4
19.775 78 25 13 6
19.800 140 20 17 2
19.825 60 15 9 3
19.850 98 10 23 5
19.875 98 35 19 1
19.900 118 25 13 1
19.925 84 20 15 4
19.950 76 15 19 2
19.975 52 10 22 1
20.000 102 20 14 4
20.025 90 25 12 5
20.050 70 30 20 1
20.075 124 15 18 3
20.100 54 10 11 3
20.125 72 30 24 1
20.150 92 20 17 5
20.175 56 20 14 8
20.200 120 5 23 1
20.225 104 40 20 3
20.250 78 25 13 6
20.275 86 10 10 1
20.300 60 15 9 3
20.325 62 25 17 2
20.350 98 35 19 1
20.375 96 15 23 5
20.400 84 20 15 4
20.425 116 5 12 3
20.450 52 10 22 1
20.475 68 20 18 1
20.500 90 25 12 5
20.525 88 25 14 4
20.550 124 15 18 3
20.575 62 15 19 1
20.600 72 30 24 1
20.625 48 30 10 3
20.650 56 20 14 8
20.675 82 10 6 5
20.700 104 40 20 3
20.725 110 20 16 2
20.750 86 10 10 1
20.775 70 5 12 6
20.800 62 25 17 2
20.825 54 25 21 1
20.850 96 15 23 5
20.875 92 15 14 1
20.900 116 5 12 3
20.925 122 20 18 4
20.950 68 20 18 1
20.975 74 10 11 2
21.000 88 25 14 4
21.025 60 30 17 5
21.050 62 15 19 1
21.075 86 15 13 1
21.100 48 30 10 3
21.125 100 25 20 2
21.150 82 10 1 5
21.175 66 5 15 6
21.200 110 20 16 2
21.225 50 20 9 1
21.250 70 5 12 6
21.275 78 15 16 4
21.300 54 25 21 1
21.325 58 25 12 2
21.350 92 15 14 1
21.375 44 10 18 5
21.400 122 20 18 4
21.425 72 20 14 1
21.450 74 10 11 2
21.475 52 15 10 1
21.500 60 30 17 5
21.525 64 20 13 4
21.550 86 15 13 1
21.575 44 10 17 1
21.600 100 25 20 2
21.625 36 25 10 3
21.650 66 5 15 6
21.675 58 15 14 5
21.700 50 20 9 1
21.725 74 5 19 1
21.750 78 15 16 4
21.775 46 20 11 6
21.800 58 25 12 2
21.825 38 10 8 3
21.850 44 10 18 5
21.875 62 25 15 1
21.900 72 20 14 1
21.925 50 15 12 4
21.950 52 15 10 1
21.975 32 5 18 1
22.000 64 20 13 4
22.025 56 20 10 5
22.050 44 10 17 1
22.075 70 10 14 3
22.100 36 25 10 3
22.125 42 25 20 1
22.150 58 15 14 5
22.175 34 15 12 6
22.200 74 5 19 1
22.225 60 5 7 3
22.250 46 20 11 6
22.275 48 20 15 1
22.300 38 10 8 3
22.325 30 10 11 2
22.350 62 25 15 1
22.375 52 15 17 5
22.400 50 15 12 4
22.425 40 20 9 3
22.450 32 5 18 1
22.475 58 10 13 1
22.500 56 20 10 5
22.525 44 15 12 4
22.550 70 10 14 3
22.575 30 20 15 1
22.600 42 25 20 1
22.625 24 5 9 3
22.650 34 15 12 6
22.675 40 15 13 5
22.700 60 5 7 3
22.725 50 10 10 1
22.750 48 20 15 1
22.775 34 20 16 4
22.800 30 10 11 2
22.825 26 5 8 3
22.850 52 15 17 5
22.875 42 15 12 1
22.900 40 20 9 3
22.925 32 10 15 2
22.950 58 10 13 1
22.975 22 20 9 5
23.000 44 15 12 4
23.025 38 5 13 1
23.050 30 20 15 1
23.075 48 15 11 2
23.100 24 5 9 3
23.125 30 10 16 4
23.150 40 15 13 5
23.175 20 20 8 1
23.200 50 10 10 1
23.225 36 5 12 3
23.250 34 20 16 4
23.275 46 15 7 2
23.300 26 5 8 3
23.325 28 10 14 5
23.350 42 15 12 1
23.375 22 20 10 1
23.400 32 10 15 2
23.425 40 5 15 3
23.450 22 20 9 5
23.475 32 15 9 1
23.500 38 5 13 1
23.525 44 15 12 4
23.550 48 15 11 2
23.575 30 20 15 1
23.600 30 10 16 4
23.625 24 5 9 3
23.650 20 20 8 1
23.675 40 15 13 5
23.700 36 5 12 3
23.725 50 10 10 1
23.750 46 15 1 2
23.775 34 20 16 4
23.800 28 10 14 5
23.825 26 5 8 3
23.850 22 20 10 1
23.875 42 15 12 1
23.900 40 5 15 3
23.925 32 10 15 2
23.950 32 15 9 1
23.975 22 20 9 5
24.000 44 10 14 4
}\coarse
\begin{document}
\begin{tikzpicture}
\begin{axis}[
  at={(0,0)}, anchor=south west,
  scale only axis,
  width=390.5bp, height=350.6bp,
  ymode=log, log basis y=10,
  xmin=0, xmax=24, ymin=1, ymax=2e6,
  xtick={0,2,4,6,8,10,12,14,16,18,20,22,24},
  minor x tick num=9,
  ytick={1,10,100,1000,10000,100000,1000000},
  minor ytick={2,3,4,5,6,7,8,9,20,30,40,50,60,70,80,90,200,300,400,500,600,700,800,900,2000,3000,4000,5000,6000,7000,8000,9000,20000,30000,40000,50000,60000,70000,80000,90000,200000,300000,400000,500000,600000,700000,800000,900000,2000000},
  yticklabels={\tp{0},\tp{1},\tp{2},\tp{3},\tp{4},\tp{5},\tp{6}},
  /pgf/number format/assume math mode=true,
  tick align=outside,
  major tick length=4.3bp, minor tick length=2.4bp,
  every tick/.style={axgray, line width=0.6bp},
  axis line style={axgray, line width=0.6bp},
  tick label style={font=\fontsize{14.9}{17}\selectfont, text=axgray},
  yticklabel style={anchor=east},
  xticklabel style={yshift=-4.5bp},
  xlabel={Time (hour local)},
  ylabel={Number density (counts/liter)},
  xlabel style={font=\fontsize{16.4}{19}\selectfont, text=axgray, at={(axis description cs:0.5,-0.128)}, anchor=base},
  ylabel style={font=\fontsize{16.4}{19}\selectfont, text=axgray, at={(axis description cs:-0.1008,0.5)}, anchor=base},
  title={2026-07-22 Particle number density by GRIMM-OPC at CCNY},
  title style={font=\fontsize{16.7}{19}\selectfont\bfseries, text=black, at={(axis description cs:0.5,1.0137)}, anchor=base, yshift=-6.3bp},
  unbounded coords=jump,
  legend cell align=center,
  legend image code/.code={\draw[#1] (0bp,0bp) -- (30.7bp,0bp);},
  legend style={draw=none, fill=none, at={(axis description cs:0.8125,0.9537)}, anchor=north west, inner sep=0pt, outer sep=0pt, row sep=8.05bp, column sep=2.8bp, font=\fontsize{13.4}{15}\selectfont, text=black, nodes={inner sep=0pt, text height=9.6bp, text depth=0pt}},
  every axis plot/.append style={line width=0.75bp},
]
\addplot[c1] table[x=t,y=b]{\fine};
\addlegendentry{0.25}
\addplot[c2] table[x=t,y=o]{\fine};
\addlegendentry{0.35}
\addplot[c3] table[x=t,y=y]{\fine};
\addlegendentry{0.5}
\addplot[c4] table[x=t,y=p]{\coarse};
\addlegendentry{0.7}
\addplot[c5] table[x=t,y=g]{\coarse};
\addlegendentry{1.3}
\addplot[c6] table[x=t,y=l]{\coarse};
\addlegendentry{2.5}
\addplot[c7] table[x=t,y=r]{\coarse};
\addlegendentry{4}
\end{axis}
\path (-65.5bp,-49bp) rectangle (438.5bp,383bp);
\end{tikzpicture}
\end{document}
